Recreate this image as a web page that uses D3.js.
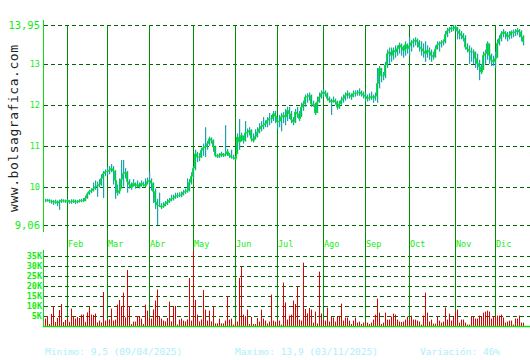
<!DOCTYPE html>
<html>
<head>
<meta charset="utf-8">
<script src="https://cdn.jsdelivr.net/npm/d3@7"></script>
<style>
  body { margin: 0; background: #fff; }
  svg { display: block; }
  text { font-family: "DejaVu Sans Mono", "Liberation Mono", monospace; }
</style>
</head>
<body>
<div id="chart"></div>
<script>
// daily closes (trading days, mid Jan -> mid Dec 2025)
var closes = [
  9.66,9.67,9.65,9.64,9.62,9.63,9.60,9.63,9.66,9.65,9.64,9.66,9.62,9.63,9.65,9.62,9.63,9.65,9.66,9.65,
  9.72,9.82,9.88,9.90,9.95,10.00,10.02,10.05,10.20,10.32,10.36,10.37,10.40,10.44,10.38,10.15,9.85,9.90,10.18,10.32,
  10.35,10.12,10.05,9.98,10.08,10.02,10.05,10.00,10.08,10.05,10.02,10.12,10.15,10.08,9.88,9.62,9.55,9.53,9.50,9.52,
  9.58,9.62,9.66,9.70,9.72,9.76,9.78,9.78,9.80,9.86,9.88,9.90,10.10,10.25,10.45,10.80,10.72,10.72,10.89,10.95,
  10.98,11.05,11.17,11.13,10.97,10.76,10.74,10.76,10.80,10.76,10.79,10.85,10.76,10.72,10.71,10.68,11.21,11.09,11.25,11.13,
  11.31,11.33,11.37,11.17,11.13,11.23,11.33,11.41,11.47,11.50,11.54,11.62,11.66,11.66,11.78,11.72,11.58,11.60,11.70,11.74,
  11.70,11.86,11.78,11.63,11.58,11.82,11.78,11.66,11.94,12.02,12.19,12.20,12.23,12.02,12.01,11.80,12.07,12.19,12.27,12.31,
  12.27,12.15,12.11,12.07,12.11,12.07,11.94,12.02,12.11,12.15,12.23,12.27,12.23,12.20,12.27,12.28,12.29,12.31,12.27,12.24,
  12.20,12.15,12.17,12.20,12.17,12.21,12.52,12.89,12.71,12.71,12.97,13.25,13.29,13.21,13.33,13.29,13.37,13.46,13.41,13.33,
  13.47,13.37,13.44,13.52,13.55,13.58,13.54,13.41,13.37,13.31,13.25,13.33,13.29,13.21,13.17,13.36,13.47,13.50,13.52,13.54,
  13.72,13.81,13.85,13.88,13.86,13.90,13.80,13.74,13.70,13.63,13.41,13.36,13.31,13.29,13.29,13.13,13.01,12.93,12.80,13.21,
  13.25,13.50,13.21,13.09,13.05,13.13,13.50,13.62,13.74,13.78,13.74,13.66,13.70,13.78,13.76,13.78,13.82,13.78,13.66,13.54
];
var highs = [
  9.70,9.70,9.69,9.68,9.67,9.68,9.66,9.68,9.70,9.69,9.68,9.70,9.67,9.69,9.69,9.68,9.67,9.69,9.70,9.72,
  9.78,9.86,9.92,9.96,10.10,10.15,10.12,10.18,10.30,10.38,10.42,10.48,10.50,10.55,10.50,10.40,10.05,10.20,10.65,10.65,
  10.45,10.38,10.18,10.10,10.18,10.10,10.15,10.10,10.15,10.12,10.20,10.22,10.35,10.20,10.10,9.95,9.70,9.85,9.60,9.62,
  9.65,9.70,9.72,9.80,9.80,9.85,9.85,9.86,9.88,9.92,9.95,10.20,10.18,10.35,10.50,10.90,10.85,10.82,10.95,11.05,
  11.45,11.12,11.22,11.20,11.15,11.00,10.80,10.82,10.85,10.82,11.50,10.92,10.82,10.90,10.78,10.75,11.30,11.65,11.32,11.25,
  11.60,11.42,11.45,11.40,11.30,11.40,11.45,11.55,11.60,11.70,11.62,11.70,11.80,11.75,11.85,11.85,11.70,11.75,11.80,11.82,
  11.90,11.95,11.95,11.85,11.70,11.90,11.95,11.85,12.05,12.10,12.25,12.28,12.30,12.25,12.10,12.05,12.20,12.30,12.35,12.38,
  12.35,12.30,12.20,12.15,12.20,12.15,12.10,12.10,12.20,12.25,12.30,12.35,12.30,12.28,12.35,12.35,12.36,12.40,12.35,12.32,
  12.30,12.25,12.28,12.32,12.25,12.30,12.90,12.95,12.90,12.80,13.05,13.35,13.40,13.40,13.40,13.45,13.45,13.52,13.50,13.45,
  13.55,13.50,13.65,13.58,13.62,13.65,13.62,13.58,13.55,13.50,13.55,13.45,13.40,13.35,13.30,13.45,13.55,13.55,13.58,13.60,
  13.80,13.88,13.90,13.92,13.95,13.95,13.90,13.85,13.80,13.75,13.70,13.50,13.45,13.40,13.35,13.30,13.25,13.10,13.00,13.30,
  13.35,13.55,13.50,13.25,13.20,13.30,13.60,13.70,13.80,13.85,13.80,13.78,13.80,13.82,13.84,13.85,13.88,13.85,13.82,13.70
];
var lows = [
  9.62,9.63,9.60,9.58,9.55,9.58,9.52,9.43,9.60,9.61,9.60,9.61,9.58,9.58,9.60,9.57,9.59,9.61,9.62,9.62,
  9.64,9.70,9.80,9.84,9.88,9.92,9.75,9.98,10.02,9.72,10.25,10.28,10.30,10.35,10.05,9.70,9.78,9.82,9.95,10.00,
  10.20,9.85,9.95,9.92,10.00,9.95,9.98,9.95,10.00,10.00,9.98,10.05,10.00,9.90,9.60,9.45,9.06,9.50,9.45,9.48,
  9.52,9.55,9.60,9.64,9.66,9.70,9.72,9.74,9.74,9.78,9.82,9.85,9.88,10.05,10.20,10.40,10.60,10.62,10.70,10.75,
  10.72,10.90,11.00,11.05,10.85,10.72,10.70,10.70,10.72,10.72,10.74,10.75,10.70,10.68,10.66,10.64,10.80,10.90,11.10,11.05,
  11.10,11.20,11.25,11.10,11.08,11.15,11.20,11.30,11.35,11.40,11.45,11.45,11.50,11.55,11.60,11.55,11.40,11.45,11.35,11.55,
  11.50,11.60,11.65,11.55,11.50,11.55,11.68,11.60,11.70,11.85,11.95,12.05,12.10,11.95,11.95,11.75,11.80,12.05,12.15,12.20,
  12.20,12.10,12.05,11.75,12.05,12.00,11.88,11.90,12.00,12.05,12.10,12.15,12.15,12.12,12.18,12.20,12.22,12.22,12.20,12.15,
  12.08,12.08,12.10,12.12,12.05,12.10,12.05,12.40,12.55,12.60,12.65,12.90,13.00,13.05,13.10,13.15,13.20,13.25,13.20,13.15,
  13.20,13.25,13.20,13.30,13.40,13.45,13.40,13.30,13.20,13.15,13.05,13.15,13.10,13.05,13.10,13.15,13.35,13.30,13.40,13.45,
  13.50,13.65,13.75,13.78,13.80,13.80,13.60,13.60,13.60,13.55,13.35,13.28,13.00,13.05,13.00,12.90,12.85,12.60,12.75,12.85,
  13.00,13.10,13.00,12.95,12.95,12.90,13.15,13.45,13.55,13.65,13.60,13.55,13.60,13.62,13.65,13.68,13.70,13.65,13.55,13.45
];
// volume in thousands of shares
var volumes = [
  3.7,5,1,6,10,2,4,8,11,2,3,4,2,8.7,5,3.7,4.5,4,5.7,5.7,
  2,6.8,9.7,5.7,5.5,6.2,1.8,2.7,1.8,17,2.7,3,3.3,8.7,2.7,3.2,10.7,13,10,16.7,
  4.3,28,10,1,2.2,2.2,5,5,3.7,1,10.7,7.7,4,3.7,8.3,12.7,18.2,5,3.7,2.7,
  2.3,4,12.2,2.3,10,10,0.7,3.2,3.7,2.7,2.3,3.3,24,2.7,37.7,13,5.7,2.3,3.3,18,
  8.2,2.7,7.7,2.3,10,1.3,1.3,3.7,1.3,1.3,2.7,14.7,3.2,3.7,0.7,2,2.2,24,29.7,5.7,
  5,8.2,1,4.5,1,1,4,2.2,8.2,3.7,2.7,1.3,2.2,15.7,2.7,2.2,3,2.7,0.7,21.7,
  11.8,3.2,5.2,5.7,12.7,11,19.7,3.2,2.7,31.7,8.5,6.3,9,8.2,1.7,7.2,1.3,27.2,6.2,3,
  2.7,9.2,2.2,4.7,4.2,2.2,5,4.7,11.2,2.7,4.2,4.2,2.7,1,2.7,4.2,1.7,2.2,1,1.7,
  2,1.7,1,1.7,3.2,5.7,13.7,6.7,1,1.7,6.7,3.2,3.2,4.7,6.2,5.7,3.2,2.2,2,2.2,
  3.2,4.7,3,5.2,3.2,3.2,2.7,2.2,0.7,5.2,16.7,6.7,2.2,3.2,1.2,1.2,4.7,2.7,1.7,2.2,
  9.2,3.2,6.2,2.7,4.7,6.8,8.2,1.7,3.2,3.2,1.7,0.7,0.7,4.7,4.7,3.7,3.7,5.2,4.7,6.7,
  7.2,7.7,7.2,3.7,4.7,5,5.2,5.2,5.7,4.2,1.7,2.2,2.7,2.7,0.7,3.7,3.7,5.2,1.7,1.7
];
// first trading day index of each month shown
var months = ["Feb","Mar","Abr","May","Jun","Jul","Ago","Sep","Oct","Nov","Dic"];
var monthIdx = [11, 31, 52, 74, 95, 116, 139, 160, 182, 205, 225];
var priceTicks = [13.95, 13, 12, 11, 10, 9.06];
var priceLabels = ["13,95", "13", "12", "11", "10", "9,06"];
var volTicks = [5, 10, 15, 20, 25, 30, 35];
var footer = ["Minimo: 9,5 (09/04/2025)", "Maximo: 13,9 (03/11/2025)", "Variación: 46%"];

var width = 530, height = 360;
var svg = d3.select("#chart").append("svg")
  .attr("width", width)
  .attr("height", height);

var x = d3.scaleLinear().domain([0, closes.length - 1]).range([45, 45 + 2 * (closes.length - 1)]);
var yP = d3.scaleLinear().domain([9.06, 13.95]).range([225, 25]);
var yV = d3.scaleLinear().domain([0, 35]).range([326, 256]);

var gridDark = "#006400", monthCol = "#008c00", axisCol = "#11dd11", labCol = "#11ee11";

// horizontal dashed grid, price
svg.append("g").selectAll("line")
  .data(priceTicks)
  .enter().append("line")
  .attr("x1", 44).attr("x2", width)
  .attr("y1", function (d) { return Math.round(yP(d)) + 0.5; })
  .attr("y2", function (d) { return Math.round(yP(d)) + 0.5; })
  .attr("stroke", gridDark)
  .attr("stroke-dasharray", "4,3");

// horizontal dashed grid, volume
svg.append("g").selectAll("line")
  .data(volTicks)
  .enter().append("line")
  .attr("x1", 44).attr("x2", width)
  .attr("y1", function (d) { return Math.round(yV(d)) + 0.5; })
  .attr("y2", function (d) { return Math.round(yV(d)) + 0.5; })
  .attr("stroke", gridDark)
  .attr("stroke-dasharray", "4,3");

// month lines across both panels
svg.append("g").selectAll("line")
  .data(monthIdx)
  .enter().append("line")
  .attr("x1", function (d) { return x(d) + 0.5; })
  .attr("x2", function (d) { return x(d) + 0.5; })
  .attr("y1", 25).attr("y2", 326)
  .attr("stroke", monthCol)
  .attr("stroke-width", 1);

svg.append("g").selectAll("text")
  .data(months)
  .enter().append("text")
  .attr("x", function (d, i) { return x(monthIdx[i]) + 1; })
  .attr("y", 247)
  .attr("font-size", "8.5px")
  .attr("fill", labCol)
  .text(function (d) { return d; });

// high-low bars
svg.append("g").selectAll("rect")
  .data(closes)
  .enter().append("rect")
  .attr("x", function (d, i) { return x(i); })
  .attr("width", 1.2)
  .attr("y", function (d, i) { return yP(highs[i]); })
  .attr("height", function (d, i) { return Math.max(1, yP(lows[i]) - yP(highs[i])); })
  .attr("fill", "#19a5ad");

// close line
var line = d3.line()
  .x(function (d, i) { return x(i) + 0.5; })
  .y(function (d) { return yP(d); })
  .curve(d3.curveStep);

svg.append("path")
  .datum(closes)
  .attr("d", line)
  .attr("fill", "none")
  .attr("stroke", "#00ee00")
  .attr("stroke-width", 1);

// volume bars
svg.append("g").selectAll("rect")
  .data(volumes)
  .enter().append("rect")
  .attr("x", function (d, i) { return x(i); })
  .attr("width", 1)
  .attr("y", function (d) { return yV(d); })
  .attr("height", function (d) { return 326 - yV(d); })
  .attr("fill", "#dd0000");

// axes lines
svg.append("line").attr("x1", 43.5).attr("x2", 43.5).attr("y1", 20).attr("y2", 232).attr("stroke", axisCol);
svg.append("line").attr("x1", 43.5).attr("x2", 43.5).attr("y1", 250).attr("y2", 327).attr("stroke", axisCol);
svg.append("line").attr("x1", 43).attr("x2", width).attr("y1", 326.5).attr("y2", 326.5).attr("stroke", axisCol).attr("stroke-width", 1.5);

// price labels
svg.append("g").selectAll("text")
  .data(priceTicks)
  .enter().append("text")
  .attr("x", 40)
  .attr("y", function (d) { return yP(d); })
  .attr("dy", "0.35em")
  .attr("text-anchor", "end")
  .attr("font-size", function (d, i) { return priceLabels[i].length > 2 ? "10.5px" : "8.5px"; })
  .attr("fill", labCol)
  .text(function (d, i) { return priceLabels[i]; });

// volume labels
svg.append("g").selectAll("text")
  .data(volTicks)
  .enter().append("text")
  .attr("x", 42)
  .attr("y", function (d) { return yV(d); })
  .attr("dy", "0.35em")
  .attr("text-anchor", "end")
  .attr("font-size", "8.5px")
  .attr("font-weight", "bold")
  .attr("fill", labCol)
  .text(function (d) { return d + "K"; });

// site name, vertical
svg.append("text")
  .attr("transform", "translate(17.5,128.5) rotate(-90)")
  .attr("text-anchor", "middle")
  .attr("font-size", "13px")
  .attr("textLength", 167)
  .attr("lengthAdjust", "spacing")
  .attr("fill", "#222")
  .text("www.bolsagrafica.com");

// footer
var footX = [45, 235, 420];
svg.append("g").selectAll("text")
  .data(footer)
  .enter().append("text")
  .attr("x", function (d, i) { return footX[i]; })
  .attr("y", 355)
  .attr("font-size", "9.5px")
  .attr("fill", "#aeeefa")
  .text(function (d) { return d; });
</script>
</body>
</html>
